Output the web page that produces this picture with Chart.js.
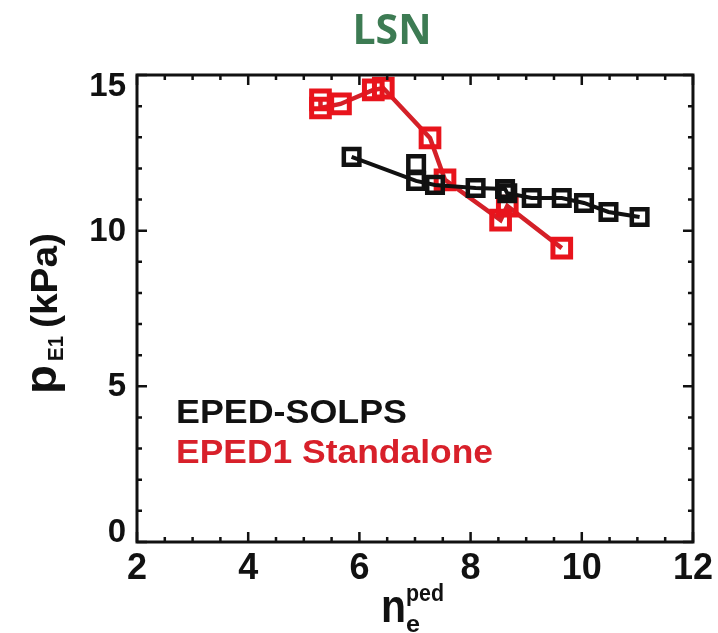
<!DOCTYPE html>
<html>
<head>
<meta charset="utf-8">
<script src="https://cdn.jsdelivr.net/npm/chart.js@4.4.1/dist/chart.umd.min.js"></script>
<style>
  html, body { margin: 0; padding: 0; background: #ffffff; }
  #wrap { width: 718px; height: 633px; position: relative; }
  canvas { display: block; }
</style>
</head>
<body>
<div id="wrap"><canvas id="c" width="718" height="633"></canvas></div>
<script>
// ---- data ----
const chartTitle = "LSN";
const seriesNames = ["EPED-SOLPS", "EPED1 Standalone"];

// EPED-SOLPS (black); a null y breaks the line (isolated upper point at ~7.0)
const solpsX = [7.02, 7.02, 5.86, 7.02, 7.36, 8.09, 8.62, 8.66, 9.10, 9.64, 10.04, 10.48, 11.04];
const solpsY = [12.14, null, 12.37, 11.60, 11.47, 11.37, 11.34, 11.20, 11.05, 11.05, 10.89, 10.60, 10.44];

// EPED1 Standalone (red)
const standX = [5.30, 5.30, 5.66, 6.25, 6.43, 7.27, 7.54, 8.54, 8.66, 9.64];
const standY = [14.20, 13.94, 14.07, 14.52, 14.58, 12.98, 11.63, 10.34, 10.79, 9.44];

const xTicks = [2, 4, 6, 8, 10, 12];
const yTicks = [0, 5, 10, 15];

const toPoints = (xs, ys) => xs.map((x, i) => ({ x: x, y: ys[i] }));

const BOLD = "'Liberation Sans', Arial, Helvetica, sans-serif";

function drawStretched(ctx, text, size, x, y, targetW, rot, align) {
  ctx.save();
  ctx.font = "bold " + size + "px " + BOLD;
  const w = ctx.measureText(text).width;
  ctx.translate(x, y);
  if (rot) ctx.rotate(rot);
  const s = targetW ? targetW / w : 1;
  ctx.scale(s, 1);
  ctx.textAlign = align || "left";
  ctx.textBaseline = "alphabetic";
  ctx.fillText(text, 0, 0);
  ctx.restore();
}

const decorPlugin = {
  id: "decor",
  beforeDraw(chart) {
    const ctx = chart.ctx;
    ctx.save();
    ctx.fillStyle = "#ffffff";
    ctx.fillRect(0, 0, chart.width, chart.height);
    ctx.restore();
  },
  afterDraw(chart) {
    const ctx = chart.ctx;
    const a = chart.chartArea;
    const xs = chart.scales.x, ys = chart.scales.y;
    ctx.save();
    // frame
    ctx.strokeStyle = "#111111";
    ctx.lineWidth = 3;
    ctx.strokeRect(a.left, a.top, a.right - a.left, a.bottom - a.top);
    // inner ticks
    ctx.lineWidth = 2.5;
    ctx.beginPath();
    for (let v = xs.min; v <= xs.max + 1e-9; v += 0.5) {
      const px = xs.getPixelForValue(v);
      const major = Math.abs(v / 2 - Math.round(v / 2)) < 1e-6;
      const L = major ? 10 : 5;
      ctx.moveTo(px, a.bottom); ctx.lineTo(px, a.bottom - L);
      ctx.moveTo(px, a.top); ctx.lineTo(px, a.top + L);
    }
    for (let v = ys.min; v <= ys.max + 1e-9; v += 1) {
      const py = ys.getPixelForValue(v);
      const major = v % 5 === 0;
      const L = major ? 10 : 5;
      ctx.moveTo(a.left, py); ctx.lineTo(a.left + L, py);
      ctx.moveTo(a.right, py); ctx.lineTo(a.right - L, py);
    }
    ctx.stroke();

    // y tick labels (kept inside the frame's vertical extent)
    ctx.fillStyle = "#111111";
    ctx.font = "bold 33px " + BOLD;
    ctx.textAlign = "right";
    ctx.textBaseline = "middle";
    yTicks.forEach(v => {
      let py = ys.getPixelForValue(v);
      py = Math.max(a.top + 11, Math.min(a.bottom - 10, py));
      ctx.fillText(String(v), a.left - 11, py + 1);
    });

    // title
    ctx.fillStyle = "#3d7b53";
    ctx.font = "bold 41px 'Open Sans', " + BOLD;
    ctx.textAlign = "center";
    ctx.textBaseline = "alphabetic";
    ctx.fillText(chartTitle, 392, 44);

    // y axis title: p_E1 (kPa), rotated
    ctx.fillStyle = "#111111";
    const R = -Math.PI / 2;
    drawStretched(ctx, "p", 44, 56, 394, 29, R);
    drawStretched(ctx, "E1", 22, 63, 361, 25, R);
    drawStretched(ctx, "(kPa)", 36, 57, 328, 95, R);

    // x axis title: n_e^ped
    drawStretched(ctx, "n", 46, 381, 622, 25, 0);
    drawStretched(ctx, "ped", 24, 406, 601, 38, 0);
    drawStretched(ctx, "e", 24, 406, 632, 14, 0);

    // legend text
    ctx.fillStyle = "#111111";
    drawStretched(ctx, seriesNames[0], 33, 176, 423, 231, 0);
    ctx.fillStyle = "#d8202a";
    drawStretched(ctx, seriesNames[1], 33, 176, 463, 317, 0);
    ctx.restore();
  }
};

new Chart(document.getElementById("c"), {
  type: "scatter",
  data: {
    datasets: [
      {
        label: seriesNames[1],
        data: toPoints(standX, standY),
        showLine: true,
        spanGaps: false,
        borderColor: "#d42028",
        borderWidth: 4.5,
        pointStyle: "rect",
        pointRadius: 12.5,
        pointBorderWidth: 5,
        pointBorderColor: "#e8141c",
        pointBackgroundColor: "rgba(255,255,255,0)",
        order: 2
      },
      {
        label: seriesNames[0],
        data: toPoints(solpsX, solpsY),
        showLine: true,
        spanGaps: false,
        borderColor: "#111111",
        borderWidth: 4,
        pointStyle: "rect",
        pointRadius: 11,
        pointBorderWidth: 4.5,
        pointBorderColor: "#111111",
        pointBackgroundColor: "rgba(255,255,255,0)",
        order: 1
      }
    ]
  },
  options: {
    responsive: false,
    animation: false,
    clip: false,
    layout: { padding: { top: 75, right: 21, left: 0, bottom: 0 } },
    plugins: {
      legend: { display: false },
      title: { display: false },
      tooltip: { enabled: false }
    },
    scales: {
      x: {
        type: "linear",
        min: 2, max: 12,
        grid: { display: false, drawTicks: false },
        border: { display: false },
        afterBuildTicks(scale) { scale.ticks = xTicks.map(v => ({ value: v })); },
        ticks: {
          color: "#111111",
          font: { family: BOLD, weight: "bold", size: 36 },
          padding: 5,
          maxRotation: 0,
          autoSkip: false
        },
        afterFit(scale) { scale.height = 91; }
      },
      y: {
        type: "linear",
        min: 0, max: 15,
        grid: { display: false, drawTicks: false },
        border: { display: false },
        afterBuildTicks(scale) { scale.ticks = yTicks.map(v => ({ value: v })); },
        ticks: { display: false },
        afterFit(scale) { scale.width = 137; }
      }
    }
  },
  plugins: [decorPlugin]
});
</script>
</body>
</html>
